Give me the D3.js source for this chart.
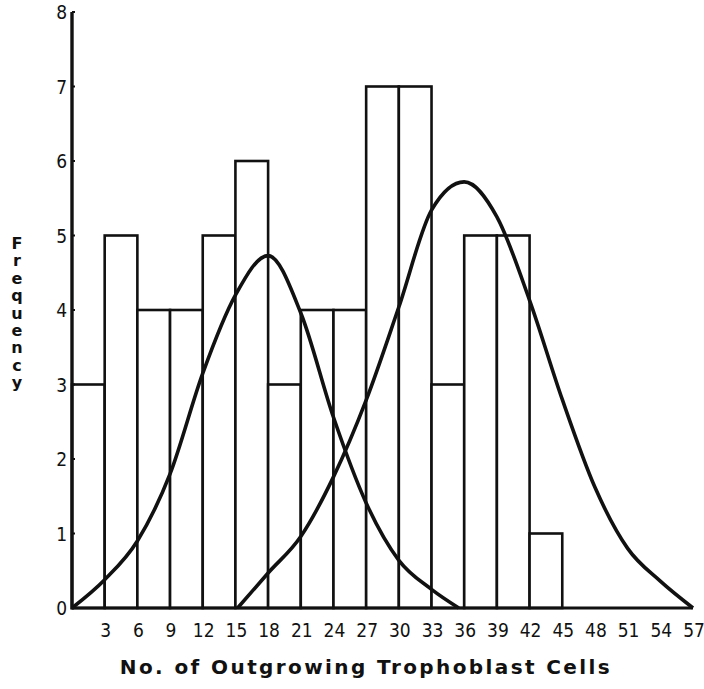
<!DOCTYPE html>
<html>
<head>
<meta charset="utf-8">
<script src="https://cdn.jsdelivr.net/npm/d3@7"></script>
<style>
  body { margin: 0; background: #fff; }
  text { font-family: "Liberation Sans", Arial, sans-serif; fill: #111; }
  .tick { font-family: "Liberation Sans Narrow", "DejaVu Sans Condensed", "Liberation Sans", sans-serif; }
</style>
</head>
<body>
<script>
// histogram bins (width 3) and frequencies
var binStarts = [0, 3, 6, 9, 12, 15, 18, 21, 24, 27, 30, 33, 36, 39, 42];
var counts    = [3, 5, 4, 4, 5, 6, 3, 4, 4, 7, 7, 3, 5, 5, 1];

// fitted curves
var curve1 = [[0,0],[3,0.38],[6,0.9],[9,1.8],[12,3.15],[15,4.2],[18,4.73],[21,3.96],[24,2.56],[27,1.41],[30,0.64],[33,0.25],[35.5,0]];
var curve2 = [[15.2,0],[18,0.47],[21,0.96],[24,1.76],[27,2.79],[30,4.04],[33,5.34],[36,5.72],[39,5.25],[42,4.13],[45,2.8],[48,1.62],[51,0.8],[54,0.36],[57,0]];

var xTicks = [3, 6, 9, 12, 15, 18, 21, 24, 27, 30, 33, 36, 39, 42, 45, 48, 51, 54, 57];
var yTicks = [0, 1, 2, 3, 4, 5, 6, 7, 8];

var width = 704, height = 689;

var svg = d3.select("body")
    .append("svg")
    .attr("width", width)
    .attr("height", height);

var x = d3.scaleLinear().domain([0, 57]).range([72, 693]);
var y = d3.scaleLinear().domain([0, 8]).range([608, 12]);

// bars
svg.append("g")
    .selectAll("rect")
    .data(binStarts)
    .enter().append("rect")
    .attr("x", function(d) { return x(d); })
    .attr("y", function(d, i) { return y(counts[i]); })
    .attr("width", function(d) { return x(d + 3) - x(d); })
    .attr("height", function(d, i) { return y(0) - y(counts[i]); })
    .style("fill", "white")
    .style("stroke", "#111")
    .style("stroke-width", 2.6);

// curves
var line = d3.line()
    .x(function(d) { return x(d[0]); })
    .y(function(d) { return y(d[1]); })
    .curve(d3.curveMonotoneX);

svg.selectAll(".fit")
    .data([curve1, curve2])
    .enter().append("path")
    .attr("class", "fit")
    .attr("d", line)
    .style("fill", "none")
    .style("stroke", "#111")
    .style("stroke-width", 3.6)
    .style("stroke-linejoin", "round");

// axes lines
svg.append("line")
    .attr("x1", x(0)).attr("x2", x(0))
    .attr("y1", y(0) + 1.5).attr("y2", y(8))
    .style("stroke", "#111").style("stroke-width", 3.4);
svg.append("line")
    .attr("x1", x(0)).attr("x2", x(57))
    .attr("y1", y(0)).attr("y2", y(0))
    .style("stroke", "#111").style("stroke-width", 3.2);

// y tick marks + labels
var yAxis = svg.append("g");
yAxis.selectAll("line")
    .data(yTicks)
    .enter().append("line")
    .attr("x1", x(0)).attr("x2", x(0) + 3)
    .attr("y1", function(d) { return y(d); })
    .attr("y2", function(d) { return y(d); })
    .style("stroke", "#111").style("stroke-width", 2);
yAxis.selectAll("text")
    .data(yTicks)
    .enter().append("text")
    .attr("class", "tick")
    .attr("x", 67)
    .attr("y", function(d) { return y(d) + 7; })
    .attr("text-anchor", "end")
    .style("font-size", "19px")
    .text(function(d) { return d; });

// x tick labels
svg.append("g")
    .selectAll("text")
    .data(xTicks)
    .enter().append("text")
    .attr("class", "tick")
    .attr("x", function(d) { return x(d) + 1; })
    .attr("y", 637)
    .attr("text-anchor", "middle")
    .style("font-size", "19px")
    .text(function(d) { return d; });

// x title
svg.append("text")
    .attr("x", 366)
    .attr("y", 674)
    .attr("text-anchor", "middle")
    .style("font-family", "'DejaVu Sans', sans-serif")
    .style("font-size", "20px")
    .style("font-weight", "bold")
    .style("letter-spacing", "2.4px")
    .text("No. of Outgrowing Trophoblast Cells");

// y title, letters stacked upright
svg.append("text")
    .attr("x", 17)
    .attr("y", 234)
    .style("writing-mode", "vertical-rl")
    .style("text-orientation", "upright")
    .style("font-family", "'DejaVu Sans', sans-serif")
    .style("font-size", "16px")
    .style("font-weight", "bold")
    .style("letter-spacing", "-1.6px")
    .text("Frequency");
</script>
</body>
</html>
